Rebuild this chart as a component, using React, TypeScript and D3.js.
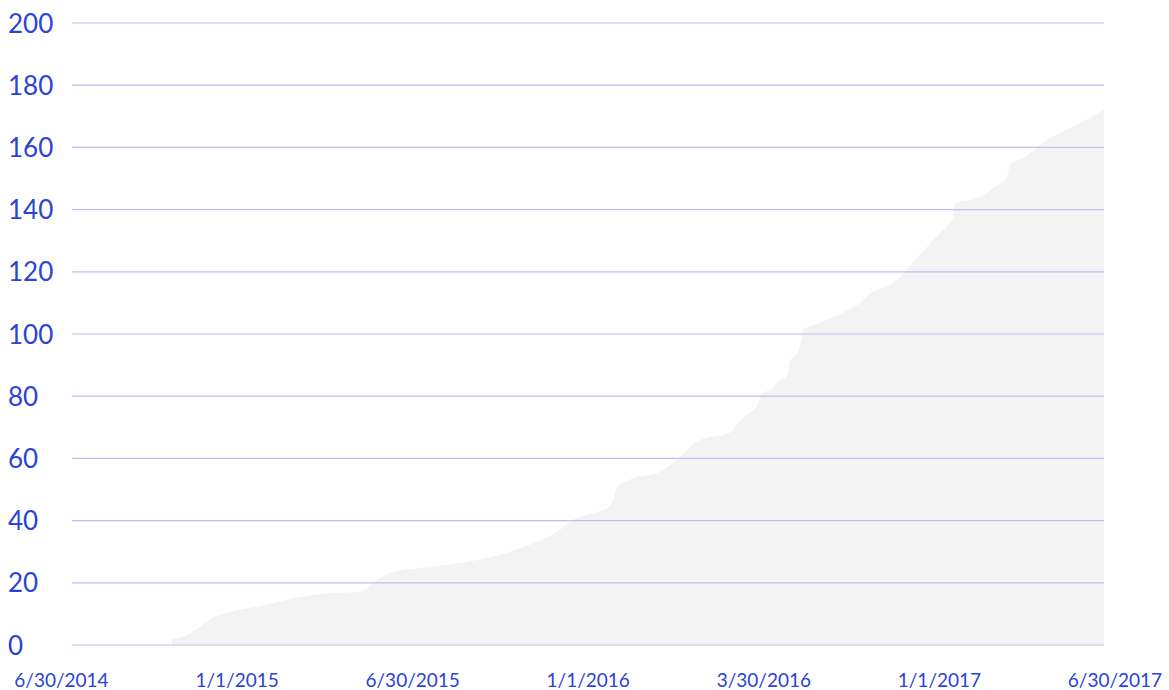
import React from 'react'
import * as d3 from 'd3'

const dates = [
  '2014-10-14', '2014-10-26', '2014-11-08', '2014-11-24', '2014-12-15', '2015-01-16',
  '2015-02-27', '2015-03-31', '2015-04-27', '2015-05-07', '2015-05-18', '2015-06-03',
  '2015-07-05', '2015-08-16', '2015-09-28', '2015-10-29', '2015-11-25', '2015-12-16',
  '2016-01-12', '2016-01-20', '2016-01-26', '2016-01-30', '2016-02-14', '2016-03-15',
  '2016-04-06', '2016-04-16', '2016-04-27', '2016-05-28', '2016-06-03', '2016-06-11',
  '2016-06-26', '2016-07-01', '2016-07-13', '2016-07-18', '2016-07-29', '2016-07-31',
  '2016-08-08', '2016-08-13', '2016-08-14', '2016-08-27', '2016-10-03', '2016-10-14',
  '2016-10-24', '2016-11-15', '2016-12-01', '2016-12-17', '2017-01-07', '2017-01-21',
  '2017-01-23', '2017-02-13', '2017-03-12', '2017-03-19', '2017-03-22', '2017-04-07',
  '2017-04-23', '2017-05-14', '2017-06-05', '2017-06-30',
]
const values = [
  2, 2.6, 4.8, 8.4, 10.6, 12.5,
  15.4, 16.7, 17, 17.7, 20.3, 23.2,
  24.8, 26.4, 29, 32.2, 36, 40.5,
  43.1, 44, 46.6, 50.8, 53.4, 55.6,
  60.5, 63.7, 65.9, 68.2, 70.1, 73,
  76.5, 80.4, 82.6, 84.6, 86.8, 91,
  93.9, 99, 101.3, 103, 108, 110,
  112.9, 115.8, 120, 125.7, 132.5, 137.6,
  142.1, 143.4, 148.6, 150.5, 154.3, 156.9,
  160.8, 164.6, 167.8, 172.3,
]
const xLabels = ['6/30/2014', '1/1/2015', '6/30/2015', '1/1/2016', '3/30/2016', '1/1/2017', '6/30/2017']
const yTicks = [0, 20, 40, 60, 80, 100, 120, 140, 160, 180, 200]

const W = 1169
const H = 690
const blue = '#2a43d8'
const font = 'Lato, "Open Sans", sans-serif'

const App = () => {
  const parse = d3.timeParse('%Y-%m-%d')
  const data = dates.map((d, i) => ({ date: parse(d) as Date, value: values[i] }))

  const x = d3
    .scaleTime()
    .domain([parse('2014-06-30') as Date, parse('2017-06-30') as Date])
    .range([72, 1104])

  const y = d3.scaleLinear().domain([0, 200]).range([645, 23])

  const labelX = d3.scalePoint().domain(xLabels).range([61.5, 1115])

  const area = d3
    .area<{ date: Date; value: number }>()
    .x(d => x(d.date))
    .y0(y(0))
    .y1(d => y(d.value))
    .curve(d3.curveMonotoneX)

  return (
    <svg
      width={W}
      height={H}
      style={{ position: 'absolute', left: 0, top: 0, background: '#fff' }}
    >
      <path d={area(data) || ''} fill="#f3f3f3" />
      {yTicks.map(t => (
        <g key={`y${t}`}>
          <line x1={72} x2={1104} y1={y(t)} y2={y(t)} stroke="#b8c1f1" strokeWidth={1.2} />
          <text x={8} y={y(t) + 9.5} fill={blue} fontFamily={font} fontSize={26}>
            {t}
          </text>
        </g>
      ))}
      {xLabels.map(l => (
        <text
          key={`x${l}`}
          x={labelX(l)}
          y={687}
          textAnchor="middle"
          fill={blue}
          fontFamily={font}
          fontSize={19}
        >
          {l}
        </text>
      ))}
    </svg>
  )
}

export default App
